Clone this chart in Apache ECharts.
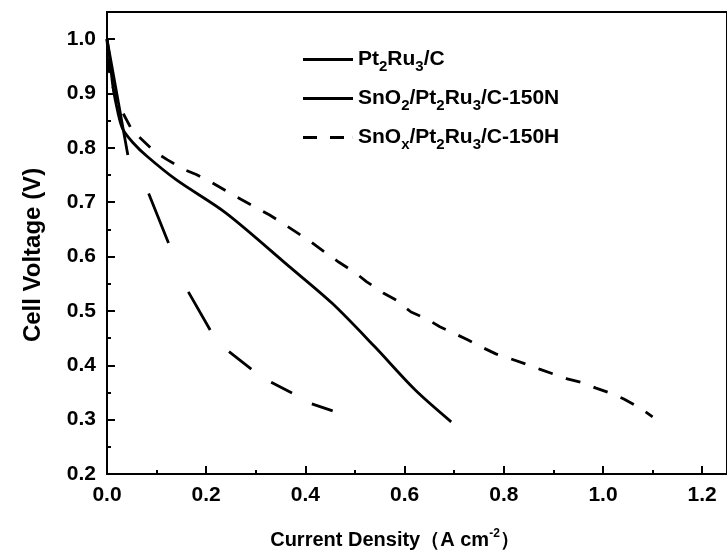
<!DOCTYPE html>
<html>
<head>
<meta charset="utf-8">
<script src="https://cdn.jsdelivr.net/npm/echarts@6/dist/echarts.min.js"></script>
<style>html,body{margin:0;padding:0;background:#fff;}#c{width:727px;height:556px;}</style>
</head>
<body>
<div id="c"></div>
<script>
// ---- data ----
const seriesNames = ['Pt2Ru3/C', 'SnO2/Pt2Ru3/C-150N', 'SnOx/Pt2Ru3/C-150H'];
const legendRich = ['Pt{s|2}Ru{s|3}/C', 'SnO{s|2}/Pt{s|2}Ru{s|3}/C-150N', 'SnO{s|x}/Pt{s|2}Ru{s|3}/C-150H'];

const currentPt = [0, 0.042, 0.084, 0.124, 0.164, 0.208, 0.246, 0.291, 0.331, 0.373, 0.413, 0.455];
const voltagePt = [1.0, 0.787, 0.716, 0.625, 0.535, 0.465, 0.425, 0.393, 0.369, 0.349, 0.329, 0.316];

const currentSnO2 = [0, 0.006, 0.012, 0.022, 0.032, 0.052, 0.08, 0.14, 0.24, 0.367, 0.454, 0.54, 0.621, 0.694];
const voltageSnO2 = [1.0, 0.96, 0.913, 0.865, 0.834, 0.81, 0.785, 0.741, 0.68, 0.582, 0.514, 0.434, 0.355, 0.296];

const currentSnOx = [0, 0.004, 0.016, 0.034, 0.052, 0.066, 0.096, 0.122, 0.156, 0.18, 0.212, 0.24, 0.269, 0.297,
  0.327, 0.353, 0.383, 0.411, 0.441, 0.467, 0.501, 0.523, 0.557, 0.583, 0.613, 0.641, 0.671, 0.697, 0.727, 0.754,
  0.784, 0.814, 0.842, 0.872, 0.9, 0.928, 0.958, 0.986, 1.014, 1.042, 1.074, 1.1];
const voltageSnOx = [1.0, 0.944, 0.896, 0.861, 0.83, 0.819, 0.793, 0.778, 0.76, 0.751, 0.736, 0.721, 0.706, 0.692,
  0.677, 0.662, 0.644, 0.627, 0.607, 0.59, 0.57, 0.554, 0.533, 0.52, 0.498, 0.487, 0.471, 0.46, 0.447, 0.434,
  0.421, 0.412, 0.403, 0.393, 0.384, 0.375, 0.368, 0.358, 0.349, 0.338, 0.322, 0.305];

const xTicks = {min: 0, max: 1.25, interval: 0.2};
const yTicks = {min: 0.2, max: 1.05, interval: 0.1};

// ---- build ----
const FONT = '"Liberation Sans", Arial, Helvetica, sans-serif';
function zip(xs, ys) { return xs.map((x, i) => [x, ys[i]]); }
// Pt2Ru3/C is drawn as segments joining successive pairs of points
function pairSegments(xs, ys) {
  const out = [];
  for (let i = 0; i < xs.length; i++) {
    out.push([xs[i], ys[i]]);
    if (i % 2 === 1 && i < xs.length - 1) out.push([(xs[i] + xs[i + 1]) / 2, null]);
  }
  return out;
}

const ICON_SOLID = 'path://M0,0h50v3h-50z';
const ICON_DASH = 'path://M0,0h14v3h-14zM27,0h14v3h-14zM49.9,0h0.1v3h-0.1z';

const chart = echarts.init(document.getElementById('c'), null, {renderer: 'canvas'});
const richMap = {};
seriesNames.forEach((n, i) => richMap[n] = legendRich[i]);

chart.setOption({
  animation: false,
  backgroundColor: '#fff',
  grid: {left: 107, top: 12, width: 624, height: 462, show: true, borderColor: '#000', borderWidth: 2, backgroundColor: 'transparent'},
  legend: {
    show: true, orient: 'vertical', left: 298, top: 44, itemWidth: 50, itemHeight: 14, itemGap: 14,
    symbolKeepAspect: true,
    data: [
      {name: seriesNames[0], icon: ICON_SOLID},
      {name: seriesNames[1], icon: ICON_SOLID},
      {name: seriesNames[2], icon: ICON_DASH}
    ],
    formatter: n => richMap[n],
    textStyle: {fontSize: 21, fontWeight: 'bold', fontFamily: FONT, color: '#000',
      rich: {s: {fontSize: 15, fontWeight: 'bold', fontFamily: FONT, color: '#000', padding: [14, 0, 0, 0]}}}
  },
  xAxis: {
    type: 'value', min: xTicks.min, max: xTicks.max, interval: xTicks.interval,
    name: 'Current Density（A cm{sup|-2}）', nameLocation: 'middle', nameGap: 54,
    nameTextStyle: {fontSize: 20, fontWeight: 'bold', fontFamily: FONT, color: '#000', padding: [0, 44, 0, 0],
      rich: {sup: {fontSize: 12, fontWeight: 'bold', fontFamily: FONT, color: '#000', padding: [0, 0, 12, 0]}}},
    axisLine: {show: true, onZero: false, lineStyle: {color: '#000', width: 2}},
    axisTick: {show: true, inside: true, length: 8, lineStyle: {color: '#000', width: 2}},
    minorTick: {show: true, splitNumber: 2, length: 4, lineStyle: {color: '#000', width: 2}},
    splitLine: {show: false},
    axisLabel: {fontSize: 21, fontWeight: 'bold', fontFamily: FONT, color: '#000', margin: 11, showMaxLabel: false,
      formatter: v => v.toFixed(1)}
  },
  yAxis: {
    type: 'value', min: yTicks.min, max: yTicks.max, interval: yTicks.interval,
    name: 'Cell Voltage (V)', nameLocation: 'middle', nameGap: 62, nameRotate: 90,
    nameTextStyle: {fontSize: 24, fontWeight: 'bold', fontFamily: FONT, color: '#000', padding: [0, 24, 0, 0]},
    axisLine: {show: true, onZero: false, lineStyle: {color: '#000', width: 2}},
    axisTick: {show: true, inside: true, length: 8, lineStyle: {color: '#000', width: 2}},
    minorTick: {show: true, splitNumber: 2, length: 4, lineStyle: {color: '#000', width: 2}},
    splitLine: {show: false},
    axisLabel: {fontSize: 21, fontWeight: 'bold', fontFamily: FONT, color: '#000', margin: 11, showMaxLabel: false,
      formatter: v => v.toFixed(1)}
  },
  series: [
    {name: seriesNames[0], type: 'line', showSymbol: false, symbol: 'none', connectNulls: false,
      data: pairSegments(currentPt, voltagePt), lineStyle: {color: '#000', width: 2.8, type: 'solid'}, itemStyle: {color: '#000'}},
    {name: seriesNames[1], type: 'line', showSymbol: false, symbol: 'none', smooth: 0.3,
      data: zip(currentSnO2, voltageSnO2), lineStyle: {color: '#000', width: 2.8, type: 'solid'}, itemStyle: {color: '#000'}},
    {name: seriesNames[2], type: 'line', showSymbol: false, symbol: 'none',
      data: zip(currentSnOx, voltageSnOx), lineStyle: {color: '#000', width: 2.8, type: [15, 14], dashOffset: 10}, itemStyle: {color: '#000'}}
  ]
});
</script>
</body>
</html>
